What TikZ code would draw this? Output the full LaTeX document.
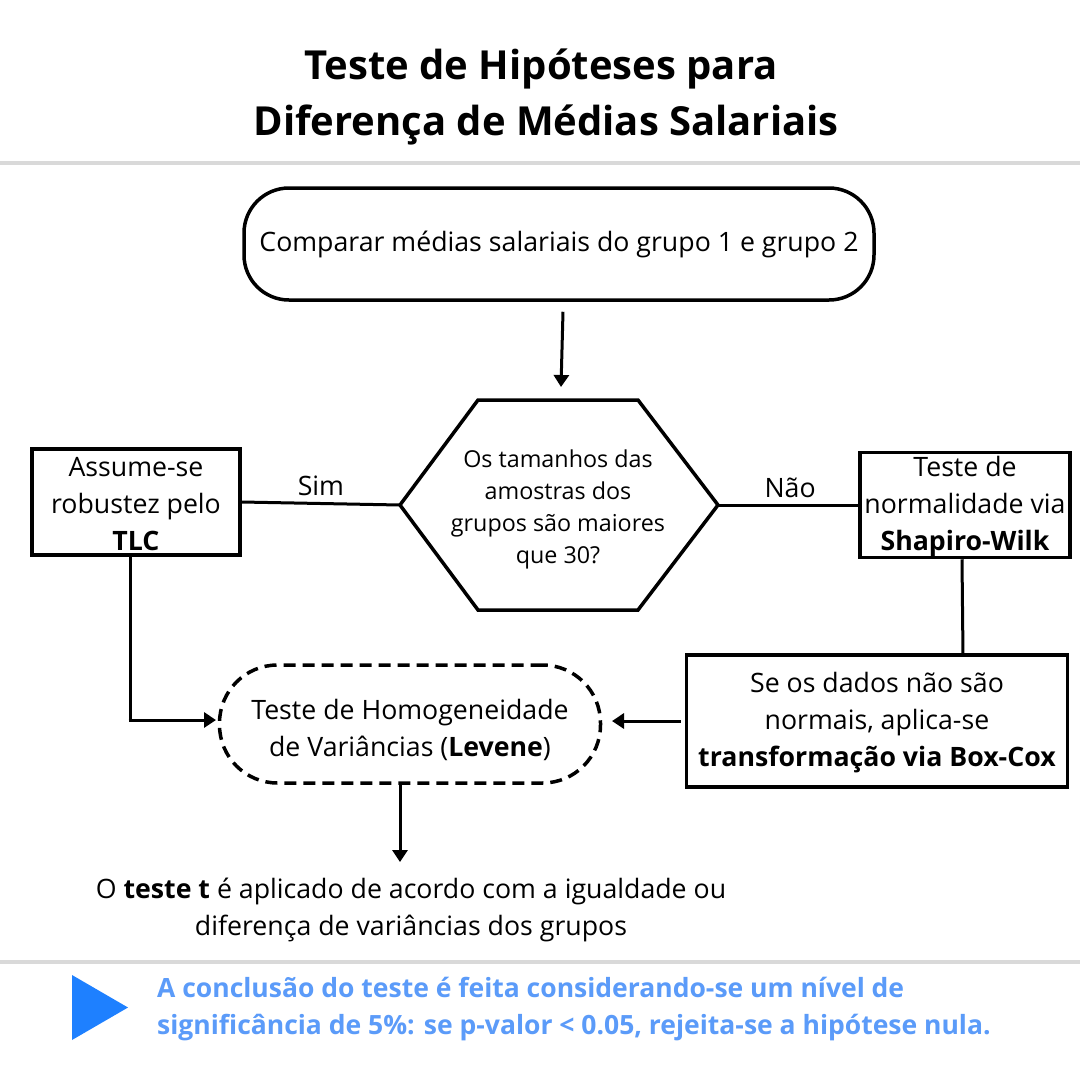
\documentclass[tikz,border=0pt]{standalone}
\usepackage{fontspec}
\setmainfont{Open Sans}
\usetikzlibrary{arrows.meta,positioning}
\definecolor{rulegrey}{HTML}{D9D9D9}
\definecolor{notecol}{HTML}{5B9BF9}
\definecolor{tricol}{HTML}{1E80FF}
\begin{document}
\begin{tikzpicture}[x=1pt,y=-1pt,
  box/.style={draw=black,line width=3.5pt,align=center,inner sep=0pt,font=\fontsize{26.7}{37}\selectfont},
  txt/.style={align=center,inner sep=0pt,font=\fontsize{26.7}{37}\selectfont},
  conn/.style={line width=3pt,black},
  arr/.style={conn,-{Triangle[width=15pt,length=12pt]}},
]
\useasboundingbox (0,0) rectangle (1080,1080);
\fill[white] (0,0) rectangle (1080,1080);
% title
\node[txt,font=\fontsize{40}{56}\selectfont\bfseries] (title) at (541,69) {Teste de Hipóteses para};
\node[txt,font=\fontsize{40}{56}\selectfont\bfseries] (title2) at (546,125) {Diferença de Médias Salariais};
\coordinate (r1a) at (0,163); \coordinate (r1b) at (1080,163);
\draw[rulegrey,line width=4pt] (r1a) -- (r1b);
% start
\node[box,rounded corners=45pt,minimum width=630pt,minimum height=112pt] (start) at (559,244) {Comparar médias salariais do grupo 1 e grupo 2};
% hexagon
\coordinate (hexL) at (400,505);
\coordinate (hexR) at (718,505);
\coordinate (hexT) at (559,400);
\draw[line width=3.5pt,line join=miter] (hexL) -- (478,400) -- (638,400) -- (hexR) -- (638,610) -- (478,610) -- cycle;
\node[txt,font=\fontsize{23.3}{32}\selectfont] (q) at (558,509) {Os tamanhos das\\amostras dos\\grupos são maiores\\que 30?};
\draw[arr] (start.south -| 563,0) ++(0,10) coordinate (s1) -- (561,387) coordinate (s2);
% left box
\node[box,minimum width=208pt,minimum height=106pt] (tlc) at (136,502) {};
\node[txt] (tlct) at (136,504) {Assume-se\\robustez pelo\\\textbf{TLC}};
% right box
\node[box,minimum width=210pt,minimum height=105pt] (sw) at (965,505) {};
\node[txt] (swt) at (965,507) {Teste de\\normalidade via\\\textbf{Shapiro-Wilk}};
\draw[conn] (tlc.east) -- (hexL) node[pos=0.5,above=6pt,txt] (sim) {Sim};
\draw[conn] (hexR) -- (sw.west) node[pos=0.5,above=6pt,txt,xshift=2pt] (nao) {Não};
% box-cox
\node[box,minimum width=381pt,minimum height=132pt] (bc) at (877,721) {};
\node[txt] (bct) at (877,723) {Se os dados não são\\normais, aplica-se\\\textbf{transformação via Box-Cox}};
\draw[conn] (sw.south -| 962,0) coordinate (sw1) -- (963,655) coordinate (bc1);
% levene
\node[draw,dash pattern=on 12pt off 7pt,line width=3.5pt,rounded corners=58pt,minimum width=381pt,minimum height=118pt,inner sep=0pt] (lev) at (410,724) {};
\node[txt] (levt) at (410,730) {Teste de Homogeneidade\\de Variâncias (\textbf{Levene})};
\draw[arr] (bc.west) ++(-4,0) coordinate (bcw) -- (612,721) coordinate (levr);
\coordinate (c1) at (130,557);
\coordinate (c2) at (130,720);
\coordinate (levl) at (216,720);
\draw[conn] (c1) -- (c2);
\draw[arr] (c2) ++(-1.5,0) -- (levl);
\draw[arr] (lev.south -| 400,0) coordinate (lv1) -- (400,862) coordinate (lv2);
\node[txt] (concl) at (411,910) {O \textbf{teste t} é aplicado de acordo com a igualdade ou\\diferença de variâncias dos grupos};
\coordinate (r2a) at (0,962); \coordinate (r2b) at (1080,962);
\draw[rulegrey,line width=4pt] (r2a) -- (r2b);
\fill[tricol] (72,975) coordinate (t1) -- (72,1040) -- (128,1007.5) -- cycle;
\node[txt,anchor=west,align=left,text=notecol,font=\fontsize{26.5}{37}\selectfont\bfseries] (note) at (157,1009) {A conclusão do teste é feita considerando-se um nível de\\significância de 5\%: se p-valor < 0.05, rejeita-se a hipótese nula.};
\end{tikzpicture}
\end{document}
